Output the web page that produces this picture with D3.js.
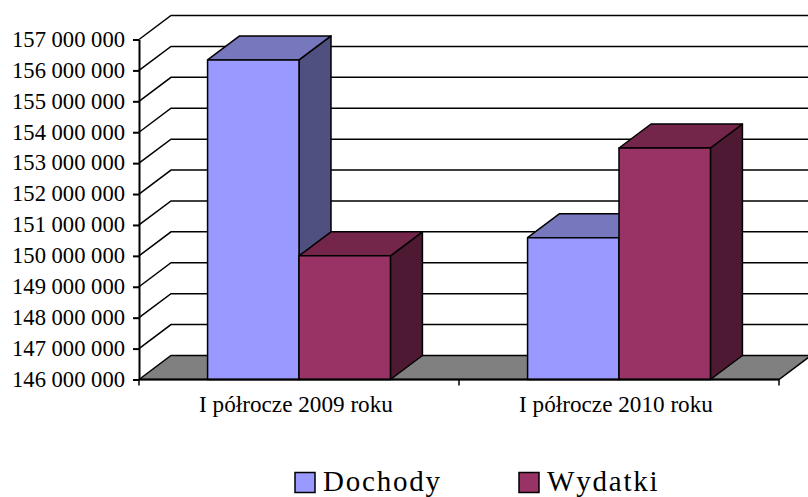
<!DOCTYPE html>
<html>
<head>
<meta charset="utf-8">
<script src="https://cdn.jsdelivr.net/npm/d3@7"></script>
<style>
  html, body { margin: 0; padding: 0; background: #fff; }
  svg { display: block; }
  text { font-family: "Liberation Serif", serif; fill: #000; }
</style>
</head>
<body>
<svg id="chart" width="808" height="497"></svg>
<script>
const categories = ["I półrocze 2009 roku", "I półrocze 2010 roku"];
const seriesNames = ["Dochody", "Wydatki"];
const dochody = [156340000, 150590000];
const wydatki = [150000000, 153490000];
const yTicks = d3.range(146000000, 157000001, 1000000);

const frontColors = ["#9999ff", "#993366"];
const topColors = ["#7777bd", "#732649"];
const sideColors = ["#4f4f80", "#4d1933"];

const svg = d3.select("#chart");
const plotLeft = 139, plotRight = 779, plotBottom = 379.5, plotTop = 39.5;
const depthX = 32, depthY = -24;

const y = d3.scaleLinear().domain([146000000, 157000000]).range([plotBottom, plotTop]);
const x = d3.scaleBand().domain(categories).range([plotLeft, plotRight]);
const xInner = d3.scaleBand().domain(seriesNames).range([0, x.bandwidth()])
    .paddingInner(0).paddingOuter(0.75);

const fmt = d => d3.format(",")(d).replace(/,/g, " ");

// floor
svg.append("path")
    .attr("d", d3.line()([[plotLeft, plotBottom], [plotLeft + depthX, plotBottom + depthY], [plotRight + depthX, plotBottom + depthY], [plotRight, plotBottom]]) + "Z")
    .attr("fill", "#808080")
    .attr("stroke", "#000")
    .attr("stroke-width", 1.5);

// grid lines, bent at the back wall
svg.append("g").selectAll("path")
    .data(yTicks.slice(1))
    .enter()
    .append("path")
    .attr("fill", "none")
    .attr("stroke", "#000")
    .attr("stroke-width", 1.5)
    .attr("d", d => d3.line()([[plotLeft, y(d)], [plotLeft + depthX, y(d) + depthY], [plotRight + depthX, y(d) + depthY]]));

// bars
const bars = [];
categories.forEach((c, i) => {
    bars.push({ cat: c, s: 0, value: dochody[i] });
    bars.push({ cat: c, s: 1, value: wydatki[i] });
});

const line = d3.line();
bars.forEach(b => {
    const x0 = x(b.cat) + xInner(seriesNames[b.s]);
    const x1 = x0 + xInner.bandwidth();
    const yTop = y(b.value);
    const g = svg.append("g")
        .attr("stroke", "#000")
        .attr("stroke-width", 1.5)
        .attr("stroke-linejoin", "round");
    g.append("path")
        .attr("fill", sideColors[b.s])
        .attr("d", line([[x1, yTop], [x1 + depthX, yTop + depthY], [x1 + depthX, plotBottom + depthY], [x1, plotBottom]]) + "Z");
    g.append("path")
        .attr("fill", topColors[b.s])
        .attr("d", line([[x0, yTop], [x0 + depthX, yTop + depthY], [x1 + depthX, yTop + depthY], [x1, yTop]]) + "Z");
    g.append("rect")
        .attr("x", x0)
        .attr("y", yTop)
        .attr("width", x1 - x0)
        .attr("height", plotBottom - yTop)
        .attr("fill", frontColors[b.s]);
});

// axes
const yAxis = svg.append("g")
    .attr("transform", `translate(${plotLeft},0)`)
    .call(d3.axisLeft(y).tickValues(yTicks).tickFormat(fmt).tickSizeInner(6).tickSizeOuter(0).tickPadding(8));
yAxis.selectAll("text").attr("font-size", 22.6).attr("font-family", "Liberation Serif").attr("dy", "0.3em");
yAxis.selectAll("line, path").attr("stroke", "#000").attr("stroke-width", 2);

const xAxis = svg.append("g").attr("transform", `translate(0,${plotBottom})`);
xAxis.append("line").attr("x1", plotLeft).attr("x2", plotRight).attr("stroke", "#000").attr("stroke-width", 2);
xAxis.selectAll("line.tick")
    .data([plotLeft, x(categories[1]), plotRight])
    .enter()
    .append("line")
    .attr("class", "tick")
    .attr("x1", d => d).attr("x2", d => d)
    .attr("y1", 0).attr("y2", 6)
    .attr("stroke", "#000")
    .attr("stroke-width", 1.5);

// category labels
svg.selectAll("text.cat")
    .data(categories)
    .enter()
    .append("text")
    .attr("class", "cat")
    .attr("x", d => x(d) + x.bandwidth() / 2 - 3)
    .attr("y", 412)
    .attr("text-anchor", "middle")
    .attr("font-size", 23.2)
    .text(d => d);

// legend
const legendX = [295, 519];
seriesNames.forEach((name, i) => {
    svg.append("rect")
        .attr("x", legendX[i])
        .attr("y", 472.5)
        .attr("width", 20)
        .attr("height", 20)
        .attr("fill", frontColors[i])
        .attr("stroke", "#000")
        .attr("stroke-width", 1.5);
    svg.append("text")
        .attr("x", legendX[i] + 28)
        .attr("y", 491)
        .attr("font-size", 29)
        .attr("letter-spacing", 1.8)
        .style("font-kerning", "none")
        .text(name);
});
</script>
</body>
</html>
